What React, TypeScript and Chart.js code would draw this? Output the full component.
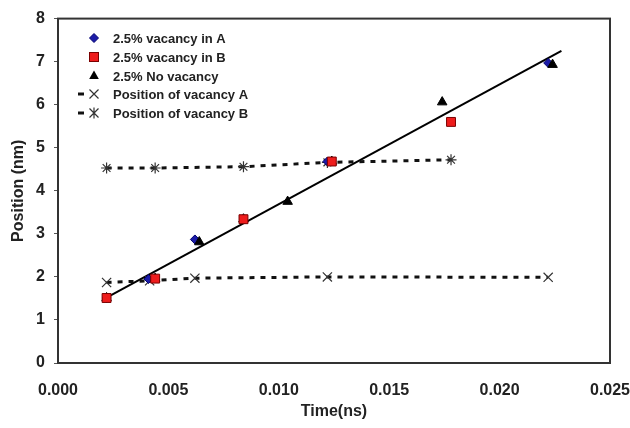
import React, { useEffect, useRef } from 'react';
import { Chart, registerables } from 'chart.js';

Chart.register(...registerables);

// ---- data ----
const timeVacInA = [0.0022, 0.0041, 0.0062, 0.0122, 0.0222];
const posVacInA = [1.51, 1.95, 2.87, 4.68, 6.97];

const timeVacInB = [0.0022, 0.0044, 0.0084, 0.0124, 0.0178];
const posVacInB = [1.51, 1.96, 3.34, 4.68, 5.6];

const timeNoVac = [0.0022, 0.0044, 0.0064, 0.0084, 0.0104, 0.0124, 0.0174, 0.0224];
const posNoVac = [1.51, 1.96, 2.81, 3.34, 3.75, 4.68, 6.06, 6.93];

const timePosA = [0.0022, 0.00415, 0.0062, 0.0122, 0.0222];
const posPosA = [1.87, 1.91, 1.97, 2.0, 1.99];

const timePosB = [0.0022, 0.0044, 0.0084, 0.0122, 0.0178];
const posPosB = [4.53, 4.53, 4.56, 4.66, 4.72];

const timeFit = [0.0022, 0.0228];
const posFit = [1.52, 7.25];

const xTicks = [0, 0.005, 0.01, 0.015, 0.02, 0.025];
const yTicks = [0, 1, 2, 3, 4, 5, 6, 7, 8];

const legendLabels = [
  '2.5% vacancy in A',
  '2.5% vacancy in B',
  '2.5% No vacancy',
  'Position of vacancy A',
  'Position of vacancy B',
];

const pts = (xs: number[], ys: number[]) => xs.map((x, i) => ({ x, y: ys[i] }));

const FONT = "'Liberation Sans', Arial, sans-serif";
const TEXT = '#222222';

function drawMarker(ctx: CanvasRenderingContext2D, kind: string, x: number, y: number) {
  ctx.save();
  ctx.setLineDash([]);
  if (kind === 'diamond') {
    ctx.beginPath();
    ctx.moveTo(x, y - 4.5);
    ctx.lineTo(x + 4.5, y);
    ctx.lineTo(x, y + 4.5);
    ctx.lineTo(x - 4.5, y);
    ctx.closePath();
    ctx.fillStyle = '#1c1ca8';
    ctx.fill();
    ctx.strokeStyle = '#000070';
    ctx.lineWidth = 1;
    ctx.stroke();
  } else if (kind === 'square') {
    ctx.fillStyle = '#ee1c1c';
    ctx.fillRect(x - 4.5, y - 4.5, 9, 9);
    ctx.strokeStyle = '#7a0000';
    ctx.lineWidth = 1;
    ctx.strokeRect(x - 4.5, y - 4.5, 9, 9);
  } else if (kind === 'triangle') {
    ctx.beginPath();
    ctx.moveTo(x, y - 5.5);
    ctx.lineTo(x + 4.8, y + 3);
    ctx.lineTo(x - 4.8, y + 3);
    ctx.closePath();
    ctx.fillStyle = '#000';
    ctx.fill();
  } else {
    ctx.strokeStyle = '#333';
    ctx.lineWidth = 1.2;
    ctx.beginPath();
    const r = 4.5;
    ctx.moveTo(x - r, y - r);
    ctx.lineTo(x + r, y + r);
    ctx.moveTo(x - r, y + r);
    ctx.lineTo(x + r, y - r);
    if (kind === 'star') {
      ctx.moveTo(x, y - 5.5);
      ctx.lineTo(x, y + 5.5);
    }
    ctx.stroke();
  }
  ctx.restore();
}

const framePlugin = {
  id: 'frameAndLegend',
  afterDraw(chart: any) {
    const { ctx, chartArea } = chart;
    ctx.save();
    ctx.strokeStyle = '#333';
    ctx.lineWidth = 2;
    ctx.strokeRect(chartArea.left, chartArea.top, chartArea.right - chartArea.left, chartArea.bottom - chartArea.top);

    // legend inside plot area
    const kinds = ['diamond', 'square', 'triangle', 'cross', 'star'];
    const rowY = [38, 57, 76, 94, 113];
    ctx.font = `bold 13px ${FONT}`;
    ctx.fillStyle = TEXT;
    ctx.textBaseline = 'middle';
    kinds.forEach((k, i) => {
      const y = rowY[i];
      if (k === 'cross' || k === 'star') {
        ctx.save();
        ctx.strokeStyle = '#111';
        ctx.lineWidth = 3;
        ctx.beginPath();
        ctx.moveTo(78, y);
        ctx.lineTo(84, y);
        ctx.stroke();
        ctx.restore();
      }
      drawMarker(ctx, k, 94, y);
      ctx.fillStyle = TEXT;
      ctx.fillText(legendLabels[i], 113, y + 1);
    });
    ctx.restore();
  },
};

export default function App() {
  const ref = useRef<HTMLCanvasElement | null>(null);

  useEffect(() => {
    if (!ref.current) return;
    const chart = new Chart(ref.current, {
      type: 'scatter',
      data: {
        datasets: [
          {
            label: legendLabels[0],
            data: pts(timeVacInA, posVacInA),
            pointStyle: 'rectRot',
            pointRadius: 4.5,
            backgroundColor: '#1c1ca8',
            borderColor: '#000070',
            borderWidth: 1,
            order: 3,
          },
          {
            label: legendLabels[1],
            data: pts(timeVacInB, posVacInB),
            pointStyle: 'rect',
            pointRadius: 6.3,
            backgroundColor: '#ee1c1c',
            borderColor: '#7a0000',
            borderWidth: 1,
            order: 1,
          },
          {
            label: legendLabels[2],
            data: pts(timeNoVac, posNoVac),
            pointStyle: 'triangle',
            pointRadius: 5.5,
            backgroundColor: '#000',
            borderColor: '#000',
            borderWidth: 1,
            order: 2,
          },
          {
            label: legendLabels[3],
            data: pts(timePosA, posPosA),
            showLine: true,
            borderDash: [5, 6],
            borderWidth: 3,
            borderColor: '#111',
            pointStyle: 'crossRot',
            pointRadius: 6.5,
            pointBorderWidth: 1.2,
            pointBorderColor: '#333',
            order: 4,
          },
          {
            label: legendLabels[4],
            data: pts(timePosB, posPosB),
            showLine: true,
            borderDash: [5, 6],
            borderWidth: 3,
            borderColor: '#111',
            pointStyle: 'star',
            pointRadius: 5.5,
            pointBorderWidth: 1.2,
            pointBorderColor: '#333',
            order: 4,
          },
          {
            label: 'fit',
            data: pts(timeFit, posFit),
            showLine: true,
            borderWidth: 2,
            borderColor: '#000',
            pointRadius: 0,
            order: 5,
          },
        ] as any,
      },
      options: {
        animation: false,
        responsive: false,
        layout: { padding: { left: 0, top: 15, right: 20, bottom: 0 } },
        plugins: {
          legend: { display: false },
          tooltip: { enabled: false },
        },
        scales: {
          x: {
            type: 'linear',
            min: 0,
            max: 0.025,
            afterBuildTicks: (s: any) => {
              s.ticks = xTicks.map((v) => ({ value: v }));
            },
            afterFit: (s: any) => {
              s.height = 65;
              s.paddingLeft = 0;
              s.paddingRight = 0;
            },
            grid: { display: false },
            border: { display: false },
            ticks: {
              padding: 10,
              color: TEXT,
              font: { family: FONT, size: 16, weight: 'bold' },
              maxRotation: 0,
              callback: (v: any) => Number(v).toFixed(3),
            },
            title: {
              display: true,
              text: 'Time(ns)',
              color: TEXT,
              font: { family: FONT, size: 16, weight: 'bold' },
              padding: { top: 0, bottom: 7 },
            },
          },
          y: {
            type: 'linear',
            min: 0,
            max: 8,
            afterBuildTicks: (s: any) => {
              s.ticks = yTicks.map((v) => ({ value: v }));
            },
            afterFit: (s: any) => {
              s.width = 58;
            },
            grid: {
              display: true,
              drawOnChartArea: false,
              drawTicks: true,
              tickLength: 4,
              color: '#555',
            },
            border: { display: false },
            ticks: {
              padding: 9,
              color: TEXT,
              font: { family: FONT, size: 16, weight: 'bold' },
            },
            title: {
              display: true,
              text: 'Position (nm)',
              color: TEXT,
              font: { family: FONT, size: 16, weight: 'bold' },
              padding: { top: 9, bottom: 0 },
            },
          },
        },
      } as any,
      plugins: [framePlugin],
    });
    return () => chart.destroy();
  }, []);

  return (
    <div style={{ position: 'absolute', left: 0, top: 0, width: 630, height: 428, background: '#fff' }}>
      <canvas ref={ref} width={630} height={428} />
    </div>
  );
}
